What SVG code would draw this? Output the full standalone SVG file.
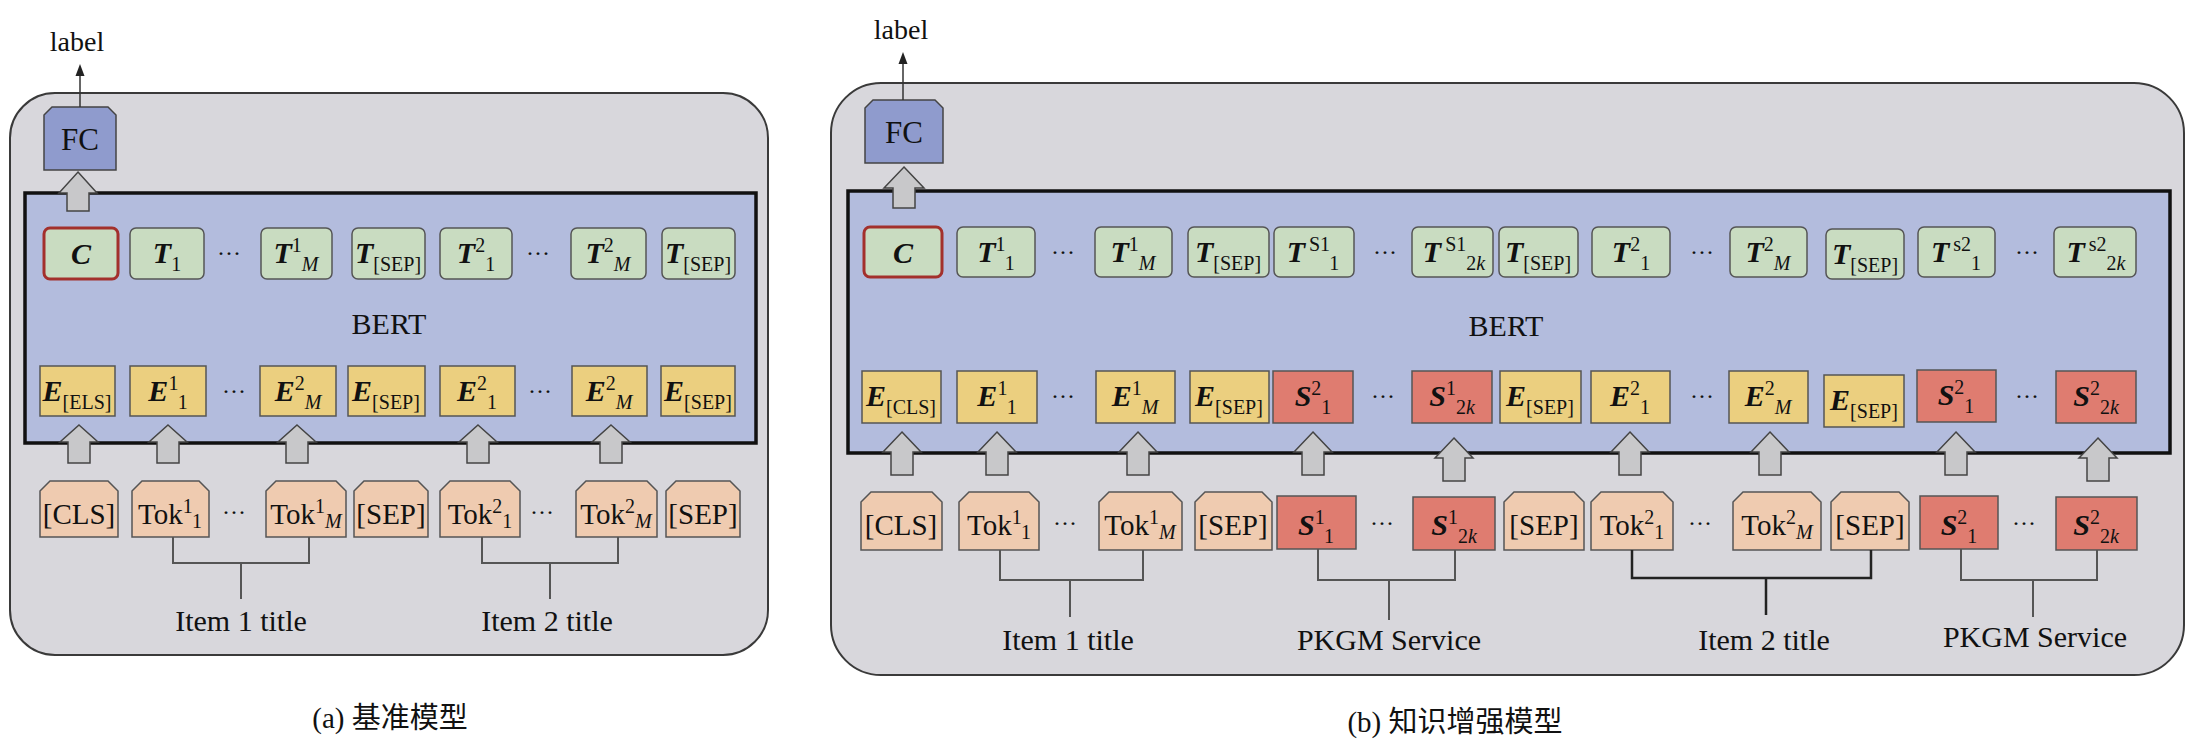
<svg xmlns="http://www.w3.org/2000/svg" width="2197" height="744" viewBox="0 0 2197 744" font-family="'Liberation Serif', 'DejaVu Serif', serif">
<defs>
<style>
.outer{fill:#d8d7dc;stroke:#3a3a3a;stroke-width:2}
.bert{fill:#b3bcdd;stroke:#111;stroke-width:3.5}
.fc{fill:#8f9bcd;stroke:#444;stroke-width:1.5}
.tb{fill:#c9dcc1;stroke:#555;stroke-width:1.5}
.cb{fill:#c9dcc1;stroke:#a3302c;stroke-width:3}
.eb{fill:#ebcf7f;stroke:#555;stroke-width:1.5}
.sb{fill:#df7c70;stroke:#555;stroke-width:1.5}
.kb{fill:#efcbb0;stroke:#555;stroke-width:1.5}
.fa{fill:#c8c8ca;stroke:#444;stroke-width:1.5}
.br{fill:none;stroke:#555;stroke-width:2}
.ln{fill:none;stroke:#333;stroke-width:1.5}
text{font-family:'Liberation Serif','DejaVu Serif',serif;fill:#111}
.lb{text-anchor:middle}
.m{font-weight:bold;font-style:italic;font-size:30px}
.s{font-size:20px}
.i{font-style:italic}
.tk{font-size:29px}
.dt{font-size:24px;text-anchor:middle}
.big{font-size:30px;text-anchor:middle}
.cap{font-family:'Liberation Serif','Noto Sans CJK SC',serif;font-size:29px;text-anchor:middle}
</style>
<marker id="ah" markerWidth="8" markerHeight="8" refX="4" refY="4" orient="auto"><path d="M0,1 L8,4 L0,7 Z" fill="#222"/></marker>
</defs>

<!-- ===== Panel (a) ===== -->
<g id="panel-a">
<rect class="outer" x="10" y="93" width="758" height="562" rx="45"/>
<rect class="bert" x="25" y="193" width="731" height="250"/>
<text class="big" x="389" y="334" font-family="Liberation Serif">BERT</text>
</g>

<g id="a-label"><text class="big" x="77" y="51" style="font-size:28px">label</text></g>
<g id="a-fc"><path class="fc" d="M44,115 L52,107 L108,107 L116,115 L116,170 L44,170 Z"/><text class="big" x="80" y="150" style="font-size:31px">FC</text></g>

<g id="a-T">
<rect class="cb" x="44" y="228" width="74" height="51" rx="6"/><text class="lb" x="81" y="264"><tspan class="m">C</tspan></text>
<rect class="tb" x="130" y="228" width="74" height="51" rx="6"/><text class="lb" x="167" y="263"><tspan class="m">T</tspan><tspan class="s" dy="8">1</tspan></text>
<text class="dt" x="229" y="261">···</text>
<rect class="tb" x="261" y="228" width="71" height="51" rx="6"/><text class="lb" x="296" y="263"><tspan class="m">T</tspan><tspan class="s" dy="-11">1</tspan><tspan class="s i" dy="19">M</tspan></text>
<rect class="tb" x="352" y="228" width="73" height="51" rx="6"/><text class="lb" x="388" y="263"><tspan class="m">T</tspan><tspan class="s" dy="8">[SEP]</tspan></text>
<rect class="tb" x="440" y="228" width="72" height="51" rx="6"/><text class="lb" x="476" y="263"><tspan class="m">T</tspan><tspan class="s" dy="-11">2</tspan><tspan class="s" dy="19">1</tspan></text>
<text class="dt" x="538" y="261">···</text>
<rect class="tb" x="571" y="228" width="75" height="51" rx="6"/><text class="lb" x="608" y="263"><tspan class="m">T</tspan><tspan class="s" dy="-11">2</tspan><tspan class="s i" dy="19">M</tspan></text>
<rect class="tb" x="662" y="228" width="73" height="51" rx="6"/><text class="lb" x="698" y="263"><tspan class="m">T</tspan><tspan class="s" dy="8">[SEP]</tspan></text>
</g>

<g id="a-E">
<rect class="eb" x="40" y="366" width="75" height="50"/><text class="lb" x="77" y="401"><tspan class="m">E</tspan><tspan class="s" dy="8">[ELS]</tspan></text>
<rect class="eb" x="130" y="366" width="76" height="50"/><text class="lb" x="168" y="401"><tspan class="m">E</tspan><tspan class="s" dy="-11">1</tspan><tspan class="s" dy="19">1</tspan></text>
<text class="dt" x="234" y="399">···</text>
<rect class="eb" x="260" y="366" width="76" height="50"/><text class="lb" x="298" y="401"><tspan class="m">E</tspan><tspan class="s" dy="-11">2</tspan><tspan class="s i" dy="19">M</tspan></text>
<rect class="eb" x="348" y="366" width="77" height="50"/><text class="lb" x="386" y="401"><tspan class="m">E</tspan><tspan class="s" dy="8">[SEP]</tspan></text>
<rect class="eb" x="440" y="366" width="75" height="50"/><text class="lb" x="477" y="401"><tspan class="m">E</tspan><tspan class="s" dy="-11">2</tspan><tspan class="s" dy="19">1</tspan></text>
<text class="dt" x="540" y="399">···</text>
<rect class="eb" x="572" y="366" width="75" height="50"/><text class="lb" x="609" y="401"><tspan class="m">E</tspan><tspan class="s" dy="-11">2</tspan><tspan class="s i" dy="19">M</tspan></text>
<rect class="eb" x="661" y="366" width="74" height="50"/><text class="lb" x="698" y="401"><tspan class="m">E</tspan><tspan class="s" dy="8">[SEP]</tspan></text>
</g>

<g id="a-Tok">
<path class="kb" d="M40,491 L50,481 L108,481 L118,491 L118,537 L40,537 Z"/><text class="lb tk" x="79" y="524">[CLS]</text>
<path class="kb" d="M132,491 L142,481 L199,481 L209,491 L209,537 L132,537 Z"/><text class="lb" x="170" y="524"><tspan class="tk">Tok</tspan><tspan class="s" dy="-11">1</tspan><tspan class="s" dy="15">1</tspan></text>
<text class="dt" x="234" y="520">···</text>
<path class="kb" d="M266,491 L276,481 L336,481 L346,491 L346,537 L266,537 Z"/><text class="lb" x="306" y="524"><tspan class="tk">Tok</tspan><tspan class="s" dy="-11">1</tspan><tspan class="s i" dy="15">M</tspan></text>
<path class="kb" d="M354,491 L364,481 L418,481 L428,491 L428,537 L354,537 Z"/><text class="lb tk" x="391" y="524">[SEP]</text>
<path class="kb" d="M440,491 L450,481 L510,481 L520,491 L520,537 L440,537 Z"/><text class="lb" x="480" y="524"><tspan class="tk">Tok</tspan><tspan class="s" dy="-11">2</tspan><tspan class="s" dy="15">1</tspan></text>
<text class="dt" x="542" y="520">···</text>
<path class="kb" d="M576,491 L586,481 L647,481 L657,491 L657,537 L576,537 Z"/><text class="lb" x="616" y="524"><tspan class="tk">Tok</tspan><tspan class="s" dy="-11">2</tspan><tspan class="s i" dy="15">M</tspan></text>
<path class="kb" d="M666,491 L676,481 L730,481 L740,491 L740,537 L666,537 Z"/><text class="lb tk" x="703" y="524">[SEP]</text>
</g>

<g id="a-titles">
<text class="big" x="241" y="631">Item 1 title</text>
<text class="big" x="547" y="631">Item 2 title</text>
</g>
<text class="cap" x="390" y="728">(a)  基准模型</text>

<g id="a-connectors">
<line class="ln" x1="80" y1="107" x2="80" y2="70" marker-end="url(#ah)"/>
<path class="fa" d="M78,172 L97,193 L89,193 L89,211 L67,211 L67,193 L59,193 Z"/>
<path class="fa" d="M79,425 L98,442 L90,442 L90,463 L68,463 L68,442 L60,442 Z"/>
<path class="fa" d="M168,425 L187,442 L179,442 L179,463 L157,463 L157,442 L149,442 Z"/>
<path class="fa" d="M297,425 L316,442 L308,442 L308,463 L286,463 L286,442 L278,442 Z"/>
<path class="fa" d="M478,425 L497,442 L489,442 L489,463 L467,463 L467,442 L459,442 Z"/>
<path class="fa" d="M611,425 L630,442 L622,442 L622,463 L600,463 L600,442 L592,442 Z"/>
<path class="br" d="M173,537 V563 H309 V537 M241,563 V599"/>
<path class="br" d="M482,537 V563 H618 V537 M550,563 V599"/>
</g>

<!-- ===== Panel (b) ===== -->
<g id="panel-b">
<rect class="outer" x="831" y="83" width="1353" height="592" rx="50"/>
<rect class="bert" x="848" y="191" width="1322" height="262"/>
<text class="big" x="1506" y="336">BERT</text>
</g>

<g id="b-label"><text class="big" x="901" y="39" style="font-size:28px">label</text></g>
<g id="b-fc"><path class="fc" d="M865,108 L873,100 L935,100 L943,108 L943,163 L865,163 Z"/><text class="big" x="904" y="143" style="font-size:31px">FC</text></g>

<g id="b-T">
<rect class="cb" x="864" y="227" width="78" height="50" rx="6"/><text class="lb" x="903" y="263"><tspan class="m">C</tspan></text>
<rect class="tb" x="957" y="227" width="78" height="50" rx="6"/><text class="lb" x="996" y="262"><tspan class="m">T</tspan><tspan class="s" dy="-11">1</tspan><tspan class="s" dy="19">1</tspan></text>
<text class="dt" x="1063" y="260">···</text>
<rect class="tb" x="1095" y="227" width="77" height="50" rx="6"/><text class="lb" x="1133" y="262"><tspan class="m">T</tspan><tspan class="s" dy="-11">1</tspan><tspan class="s i" dy="19">M</tspan></text>
<rect class="tb" x="1188" y="227" width="81" height="50" rx="6"/><text class="lb" x="1228" y="262"><tspan class="m">T</tspan><tspan class="s" dy="8">[SEP]</tspan></text>
<rect class="tb" x="1274" y="227" width="80" height="50" rx="6"/><text class="lb" x="1313" y="262"><tspan class="m">T</tspan><tspan class="s" dx="4" dy="-11">S1</tspan><tspan class="s" dy="19">1</tspan></text>
<text class="dt" x="1385" y="260">···</text>
<rect class="tb" x="1412" y="227" width="81" height="50" rx="6"/><text class="lb" x="1454" y="262"><tspan class="m">T</tspan><tspan class="s" dx="4" dy="-11">S1</tspan><tspan class="s" dy="19">2</tspan><tspan class="s i">k</tspan></text>
<rect class="tb" x="1499" y="227" width="79" height="50" rx="6"/><text class="lb" x="1538" y="262"><tspan class="m">T</tspan><tspan class="s" dy="8">[SEP]</tspan></text>
<rect class="tb" x="1592" y="227" width="78" height="50" rx="6"/><text class="lb" x="1631" y="262"><tspan class="m">T</tspan><tspan class="s" dy="-11">2</tspan><tspan class="s" dy="19">1</tspan></text>
<text class="dt" x="1702" y="260">···</text>
<rect class="tb" x="1730" y="227" width="77" height="50" rx="6"/><text class="lb" x="1768" y="262"><tspan class="m">T</tspan><tspan class="s" dy="-11">2</tspan><tspan class="s i" dy="19">M</tspan></text>
<rect class="tb" x="1826" y="229" width="78" height="50" rx="6"/><text class="lb" x="1865" y="264"><tspan class="m">T</tspan><tspan class="s" dy="8">[SEP]</tspan></text>
<rect class="tb" x="1918" y="227" width="77" height="50" rx="6"/><text class="lb" x="1956" y="262"><tspan class="m">T</tspan><tspan class="s" dx="4" dy="-11">s2</tspan><tspan class="s" dy="19">1</tspan></text>
<text class="dt" x="2027" y="260">···</text>
<rect class="tb" x="2054" y="227" width="82" height="50" rx="6"/><text class="lb" x="2096" y="262"><tspan class="m">T</tspan><tspan class="s" dx="4" dy="-11">s2</tspan><tspan class="s" dy="19">2</tspan><tspan class="s i">k</tspan></text>
</g>

<g id="b-E">
<rect class="eb" x="862" y="371" width="79" height="52"/><text class="lb" x="901" y="406"><tspan class="m">E</tspan><tspan class="s" dy="8">[CLS]</tspan></text>
<rect class="eb" x="957" y="371" width="80" height="52"/><text class="lb" x="997" y="406"><tspan class="m">E</tspan><tspan class="s" dy="-11">1</tspan><tspan class="s" dy="19">1</tspan></text>
<text class="dt" x="1063" y="404">···</text>
<rect class="eb" x="1096" y="371" width="79" height="52"/><text class="lb" x="1135" y="406"><tspan class="m">E</tspan><tspan class="s" dy="-11">1</tspan><tspan class="s i" dy="19">M</tspan></text>
<rect class="eb" x="1190" y="371" width="79" height="52"/><text class="lb" x="1229" y="406"><tspan class="m">E</tspan><tspan class="s" dy="8">[SEP]</tspan></text>
<rect class="sb" x="1273" y="371" width="80" height="52"/><text class="lb" x="1313" y="406"><tspan class="m">S</tspan><tspan class="s" dy="-11">2</tspan><tspan class="s" dy="19">1</tspan></text>
<text class="dt" x="1383" y="404">···</text>
<rect class="sb" x="1412" y="371" width="80" height="52"/><text class="lb" x="1452" y="406"><tspan class="m">S</tspan><tspan class="s" dy="-11">1</tspan><tspan class="s" dy="19">2</tspan><tspan class="s i">k</tspan></text>
<rect class="eb" x="1500" y="371" width="81" height="52"/><text class="lb" x="1540" y="406"><tspan class="m">E</tspan><tspan class="s" dy="8">[SEP]</tspan></text>
<rect class="eb" x="1591" y="371" width="79" height="52"/><text class="lb" x="1630" y="406"><tspan class="m">E</tspan><tspan class="s" dy="-11">2</tspan><tspan class="s" dy="19">1</tspan></text>
<text class="dt" x="1702" y="404">···</text>
<rect class="eb" x="1729" y="371" width="79" height="52"/><text class="lb" x="1768" y="406"><tspan class="m">E</tspan><tspan class="s" dy="-11">2</tspan><tspan class="s i" dy="19">M</tspan></text>
<rect class="eb" x="1824" y="375" width="80" height="52"/><text class="lb" x="1864" y="410"><tspan class="m">E</tspan><tspan class="s" dy="8">[SEP]</tspan></text>
<rect class="sb" x="1917" y="370" width="79" height="52"/><text class="lb" x="1956" y="405"><tspan class="m">S</tspan><tspan class="s" dy="-11">2</tspan><tspan class="s" dy="19">1</tspan></text>
<text class="dt" x="2027" y="404">···</text>
<rect class="sb" x="2056" y="371" width="80" height="52"/><text class="lb" x="2096" y="406"><tspan class="m">S</tspan><tspan class="s" dy="-11">2</tspan><tspan class="s" dy="19">2</tspan><tspan class="s i">k</tspan></text>
</g>

<g id="b-Tok">
<path class="kb" d="M861,502 L871,492 L932,492 L942,502 L942,550 L861,550 Z"/><text class="lb tk" x="901" y="535">[CLS]</text>
<path class="kb" d="M959,502 L969,492 L1029,492 L1039,502 L1039,550 L959,550 Z"/><text class="lb" x="999" y="535"><tspan class="tk">Tok</tspan><tspan class="s" dy="-11">1</tspan><tspan class="s" dy="15">1</tspan></text>
<text class="dt" x="1065" y="531">···</text>
<path class="kb" d="M1099,502 L1109,492 L1172,492 L1182,502 L1182,550 L1099,550 Z"/><text class="lb" x="1140" y="535"><tspan class="tk">Tok</tspan><tspan class="s" dy="-11">1</tspan><tspan class="s i" dy="15">M</tspan></text>
<path class="kb" d="M1195,502 L1205,492 L1262,492 L1272,502 L1272,550 L1195,550 Z"/><text class="lb tk" x="1233" y="535">[SEP]</text>
<rect class="sb" x="1277" y="496" width="79" height="53"/><text class="lb" x="1316" y="535"><tspan class="m">S</tspan><tspan class="s" dy="-11">1</tspan><tspan class="s" dy="19">1</tspan></text>
<text class="dt" x="1382" y="531">···</text>
<rect class="sb" x="1413" y="497" width="82" height="53"/><text class="lb" x="1454" y="535"><tspan class="m">S</tspan><tspan class="s" dy="-11">1</tspan><tspan class="s" dy="19">2</tspan><tspan class="s i">k</tspan></text>
<path class="kb" d="M1504,502 L1514,492 L1574,492 L1584,502 L1584,550 L1504,550 Z"/><text class="lb tk" x="1544" y="535">[SEP]</text>
<path class="kb" d="M1591,502 L1601,492 L1663,492 L1673,502 L1673,550 L1591,550 Z"/><text class="lb" x="1632" y="535"><tspan class="tk">Tok</tspan><tspan class="s" dy="-11">2</tspan><tspan class="s" dy="15">1</tspan></text>
<text class="dt" x="1700" y="531">···</text>
<path class="kb" d="M1733,502 L1743,492 L1811,492 L1821,502 L1821,550 L1733,550 Z"/><text class="lb" x="1777" y="535"><tspan class="tk">Tok</tspan><tspan class="s" dy="-11">2</tspan><tspan class="s i" dy="15">M</tspan></text>
<path class="kb" d="M1831,502 L1841,492 L1899,492 L1909,502 L1909,550 L1831,550 Z"/><text class="lb tk" x="1870" y="535">[SEP]</text>
<rect class="sb" x="1920" y="496" width="78" height="53"/><text class="lb" x="1959" y="535"><tspan class="m">S</tspan><tspan class="s" dy="-11">2</tspan><tspan class="s" dy="19">1</tspan></text>
<text class="dt" x="2024" y="531">···</text>
<rect class="sb" x="2056" y="497" width="81" height="53"/><text class="lb" x="2096" y="535"><tspan class="m">S</tspan><tspan class="s" dy="-11">2</tspan><tspan class="s" dy="19">2</tspan><tspan class="s i">k</tspan></text>
</g>

<g id="b-titles">
<text class="big" x="1068" y="650">Item 1 title</text>
<text class="big" x="1389" y="650">PKGM Service</text>
<text class="big" x="1764" y="650">Item 2 title</text>
<text class="big" x="2035" y="647">PKGM Service</text>
</g>
<text class="cap" x="1455" y="732">(b)  知识增强模型</text>

<g id="b-connectors">
<line class="ln" x1="903" y1="100" x2="903" y2="58" marker-end="url(#ah)"/>
<path class="fa" d="M904,167 L924,188 L915,188 L915,208 L893,208 L893,188 L884,188 Z"/>
<path class="fa" d="M902,432 L921,452 L913,452 L913,475 L891,475 L891,452 L883,452 Z"/>
<path class="fa" d="M997,432 L1016,452 L1008,452 L1008,475 L986,475 L986,452 L978,452 Z"/>
<path class="fa" d="M1138,432 L1157,452 L1149,452 L1149,475 L1127,475 L1127,452 L1119,452 Z"/>
<path class="fa" d="M1313,432 L1332,452 L1324,452 L1324,475 L1302,475 L1302,452 L1294,452 Z"/>
<path class="fa" d="M1454,438 L1473,458 L1465,458 L1465,481 L1443,481 L1443,458 L1435,458 Z"/>
<path class="fa" d="M1630,432 L1649,452 L1641,452 L1641,475 L1619,475 L1619,452 L1611,452 Z"/>
<path class="fa" d="M1770,432 L1789,452 L1781,452 L1781,475 L1759,475 L1759,452 L1751,452 Z"/>
<path class="fa" d="M1956,432 L1975,452 L1967,452 L1967,475 L1945,475 L1945,452 L1937,452 Z"/>
<path class="fa" d="M2098,438 L2117,458 L2109,458 L2109,481 L2087,481 L2087,458 L2079,458 Z"/>
<path class="br" d="M1000,550 V580 H1143 V550 M1070,580 V617"/>
<path class="br" d="M1318,549 V580 H1455 V550 M1389,580 V620"/>
<path class="br" d="M1632,550 V578 H1871 V550 M1766,578 V615" style="stroke:#222;stroke-width:2.5"/>
<path class="br" d="M1961,549 V580 H2097 V550 M2033,580 V617"/>
</g>
</svg>
